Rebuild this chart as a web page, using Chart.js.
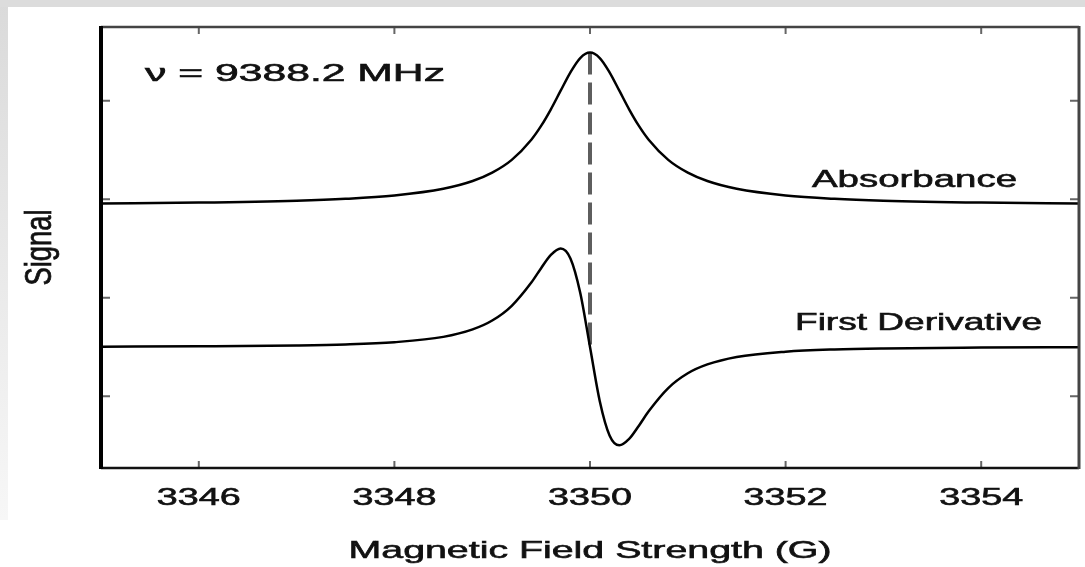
<!DOCTYPE html>
<html>
	<head>
		<title>EPR signal</title>
		<meta charset="UTF-8">
		<script src="https://cdn.jsdelivr.net/npm/chart.js@4.4.0/dist/chart.umd.min.js"></script>
		<style>
			body { margin: 0; background: #ffffff; }
			#wrap { width: 1085px; height: 567px; }
		</style>
	</head>
	<body>
		<div id="wrap"><canvas id="chart"></canvas></div>

		<script>
			let field = [3345, 3346, 3347, 3347.5, 3348, 3348.5, 3348.8, 3349, 3349.2, 3349.4, 3349.5, 3349.6, 3349.7, 3349.8, 3349.9, 3350,
				3350.1, 3350.2, 3350.3, 3350.4, 3350.5, 3350.6, 3350.8, 3351, 3351.2, 3351.5, 3352, 3352.5, 3353, 3354, 3355]
			let absorbance = [1.957, 1.966, 1.985, 2.004, 2.038, 2.106, 2.185, 2.270, 2.400, 2.605, 2.745, 2.914, 3.103, 3.290, 3.435, 3.490,
				3.435, 3.290, 3.103, 2.914, 2.745, 2.605, 2.400, 2.270, 2.185, 2.106, 2.038, 2.004, 1.985, 1.966, 1.957]
			let derivative = [0.503, 0.507, 0.515, 0.525, 0.548, 0.602, 0.678, 0.768, 0.918, 1.154, 1.300, 1.435, 1.500, 1.399, 1.051, 0.500,
				-0.051, -0.399, -0.500, -0.435, -0.300, -0.154, 0.082, 0.232, 0.322, 0.398, 0.452, 0.475, 0.485, 0.493, 0.497]
			let markerX = [3350, 3350]
			let markerY = [3.49, 0.50]

			let xTicks = [3346, 3348, 3350, 3352, 3354]
			let xTickLabels = ['3346', '3348', '3350', '3352', '3354']
			let yTicks = [0, 1, 2, 3]

			let xTitle = 'Magnetic Field Strength (G)'
			let yTitle = 'Signal'
			let freqLabel = 'ν = 9388.2 MHz'
			let absLabel = 'Absorbance'
			let derLabel = 'First Derivative'

			function points(xs, ys){
				let out = []
				for(let i = 0; i < xs.length; i++){
					out.push({x: xs[i], y: ys[i]})
				}
				return out
			}

			// text in the picture is wider than the font, so squeeze it to a width
			function wideText(ctx, text, x, y, width, align){
				ctx.save()
				let w = ctx.measureText(text).width
				let sx = width / w
				ctx.translate(x, y)
				ctx.scale(sx, 1)
				ctx.textAlign = align
				ctx.fillText(text, 0, 0)
				ctx.lineWidth = 0.6
				ctx.strokeText(text, 0, 0)
				ctx.restore()
			}

			let framePlugin = {
				id: 'frame',
				beforeDraw(chart){
					let ctx = chart.ctx
					ctx.save()
					ctx.fillStyle = '#ffffff'
					ctx.fillRect(0, 0, chart.width, chart.height)
					let g = ctx.createLinearGradient(0, 0, 0, 520)
					g.addColorStop(0, '#dadada')
					g.addColorStop(1, '#f7f7f7')
					ctx.fillStyle = g
					ctx.fillRect(0, 0, 8, 520)
					ctx.fillStyle = '#dcdcdc'
					ctx.fillRect(0, 0, chart.width, 7)
					ctx.restore()
				},
				afterDatasetsDraw(chart){
					let ctx = chart.ctx
					let a = chart.chartArea
					let xs = chart.scales.x
					let ys = chart.scales.y
					ctx.save()

					// inward ticks
					ctx.strokeStyle = '#666666'
					ctx.lineWidth = 2
					xTicks.forEach(function(v){
						let px = xs.getPixelForValue(v)
						ctx.beginPath()
						ctx.moveTo(px, a.bottom); ctx.lineTo(px, a.bottom - 7)
						ctx.moveTo(px, a.top); ctx.lineTo(px, a.top + 7)
						ctx.stroke()
					})
					yTicks.forEach(function(v){
						let py = ys.getPixelForValue(v)
						ctx.beginPath()
						ctx.moveTo(a.left, py); ctx.lineTo(a.left + 9, py)
						ctx.moveTo(a.right, py); ctx.lineTo(a.right - 9, py)
						ctx.stroke()
					})

					// box
					ctx.strokeStyle = '#111111'
					ctx.lineWidth = 2.5
					ctx.beginPath()
					ctx.moveTo(a.left, a.bottom); ctx.lineTo(a.right, a.bottom)
					ctx.stroke()
					ctx.strokeStyle = '#444444'
					ctx.beginPath()
					ctx.moveTo(a.left, a.top); ctx.lineTo(a.right, a.top)
					ctx.stroke()
					ctx.lineWidth = 4
					ctx.strokeStyle = '#000000'
					ctx.beginPath()
					ctx.moveTo(a.left, a.top - 1); ctx.lineTo(a.left, a.bottom + 1)
					ctx.stroke()
					ctx.lineWidth = 3
					ctx.strokeStyle = '#444444'
					ctx.beginPath()
					ctx.moveTo(a.right, a.top - 1); ctx.lineTo(a.right, a.bottom + 1)
					ctx.stroke()

					// texts
					ctx.fillStyle = '#111111'
					ctx.strokeStyle = '#111111'
					ctx.font = '24px "Liberation Sans", Arial, sans-serif'
					ctx.textBaseline = 'alphabetic'
					xTicks.forEach(function(v, i){
						wideText(ctx, xTickLabels[i], xs.getPixelForValue(v), 505, 84, 'center')
					})
					wideText(ctx, xTitle, (a.left + a.right) / 2, 558, 483, 'center')
					wideText(ctx, freqLabel, 145, 81, 300, 'left')
					wideText(ctx, absLabel, 812, 187, 205, 'left')
					wideText(ctx, derLabel, 795, 330, 247, 'left')

					// rotated y title, stretched across as the rest of the picture
					ctx.save()
					ctx.translate(51, (a.top + a.bottom) / 2)
					ctx.rotate(-Math.PI / 2)
					let w = ctx.measureText(yTitle).width
					ctx.scale(76 / w, 1.5)
					ctx.textAlign = 'center'
					ctx.fillText(yTitle, 0, 0)
					ctx.lineWidth = 0.5
					ctx.strokeText(yTitle, 0, 0)
					ctx.restore()

					ctx.restore()
				}
			}

			let chart = new Chart(document.getElementById('chart'), {
				type: 'line',
				data: {
					datasets: [{
						label: 'Absorbance',
						data: points(field, absorbance),
						borderColor: '#000000',
						borderWidth: 2.5,
						cubicInterpolationMode: 'monotone',
						pointRadius: 0
					}, {
						label: 'First Derivative',
						data: points(field, derivative),
						borderColor: '#000000',
						borderWidth: 2.5,
						cubicInterpolationMode: 'monotone',
						pointRadius: 0
					}, {
						label: 'Resonance',
						data: points(markerX, markerY),
						borderColor: '#5e5e5e',
						borderWidth: 4,
						borderDash: [22, 8],
						pointRadius: 0
					}]
				},
				options: {
					responsive: true,
					maintainAspectRatio: false,
					animation: false,
					layout: {padding: {left: 101, top: 27, right: 6, bottom: 99}},
					plugins: {legend: {display: false}, tooltip: {enabled: false}},
					scales: {
						x: {type: 'linear', min: 3345, max: 3355, display: false},
						y: {type: 'linear', min: -0.73, max: 3.75, display: false}
					}
				},
				plugins: [framePlugin]
			})
		</script>
	</body>
</html>
